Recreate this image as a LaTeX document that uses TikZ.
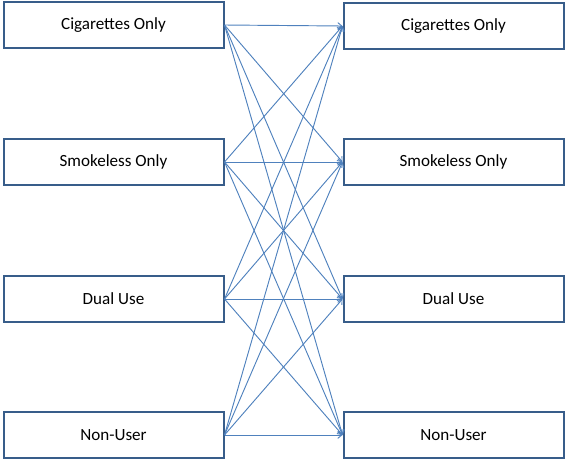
\documentclass[tikz,border=0pt]{standalone}
\usepackage{fontspec}
\setmainfont{Carlito}
\usetikzlibrary{arrows.meta}
\definecolor{boxblue}{RGB}{56,93,138}
\definecolor{linkblue}{RGB}{79,129,189}
\tikzset{
  state/.style={draw=boxblue,line width=1.5pt,fill=white,minimum width=165pt,minimum height=34pt,
    inner sep=0pt,font=\fontsize{12.8}{15}\selectfont},
  link/.style={draw=linkblue,line width=0.7pt,-{Straight Barb[length=3pt,width=5pt]}}
}
\begin{document}
\begin{tikzpicture}[x=0.75pt,y=-0.75pt]
				\useasboundingbox (0,0) rectangle (567,461);
				\node[state] (l1) at (113.5,25) {Cigarettes Only};
				\node[state] (l2) at (113.5,162) {Smokeless Only};
				\node[state] (l3) at (113.5,299) {Dual Use};
				\node[state] (l4) at (113.5,435) {Non-User};
				\node[state] (r1) at (453.5,26) {Cigarettes Only};
				\node[state] (r2) at (453.5,162) {Smokeless Only};
				\node[state] (r3) at (453.5,299) {Dual Use};
				\node[state] (r4) at (453.5,435) {Non-User};
				\foreach \i in {1,...,4}
					\foreach \j in {1,...,4}
						\draw[link] (l\i.east) -- (r\j.west);
			\end{tikzpicture}
\end{document}
